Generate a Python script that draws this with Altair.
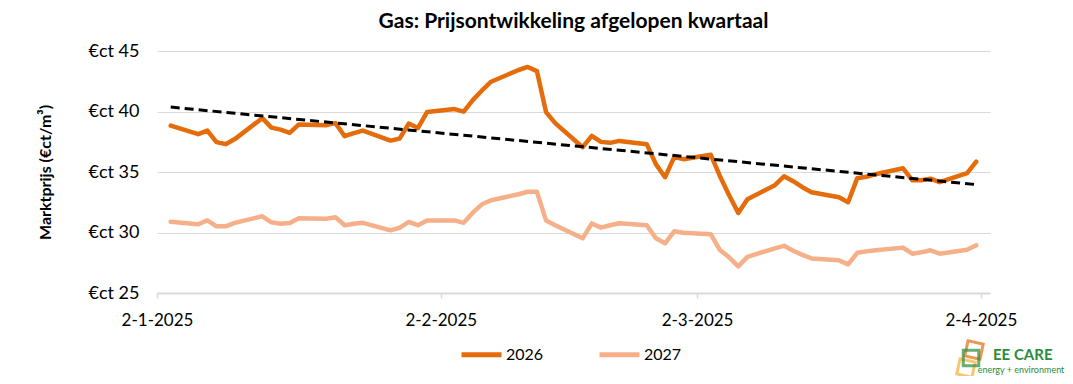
import altair as alt
import pandas as pd

dates = [
    "2025-01-03", "2025-01-06", "2025-01-07", "2025-01-08", "2025-01-09", "2025-01-10",
    "2025-01-13", "2025-01-14", "2025-01-15", "2025-01-16", "2025-01-17",
    "2025-01-20", "2025-01-21", "2025-01-22", "2025-01-23", "2025-01-24",
    "2025-01-27", "2025-01-28", "2025-01-29", "2025-01-30", "2025-01-31",
    "2025-02-03", "2025-02-04", "2025-02-05", "2025-02-06", "2025-02-07",
    "2025-02-10", "2025-02-11", "2025-02-12", "2025-02-13", "2025-02-14",
    "2025-02-17", "2025-02-18", "2025-02-19", "2025-02-20", "2025-02-21",
    "2025-02-24", "2025-02-25", "2025-02-26", "2025-02-27", "2025-02-28",
    "2025-03-03", "2025-03-04", "2025-03-05", "2025-03-06", "2025-03-07",
    "2025-03-10", "2025-03-11", "2025-03-12", "2025-03-13", "2025-03-14",
    "2025-03-17", "2025-03-18", "2025-03-19", "2025-03-20", "2025-03-21",
    "2025-03-24", "2025-03-25", "2025-03-26", "2025-03-27", "2025-03-28",
    "2025-03-31", "2025-04-01",
]

prices_2026 = [
    38.83, 38.13, 38.42, 37.47, 37.30, 37.72,
    39.45, 38.67, 38.50, 38.24, 38.93,
    38.87, 39.04, 37.96, 38.21, 38.42,
    37.59, 37.76, 39.00, 38.63, 39.95,
    40.20, 39.99, 40.94, 41.74, 42.46,
    43.43, 43.68, 43.34, 39.95, 39.04,
    37.05, 37.99, 37.49, 37.41, 37.57,
    37.30, 35.65, 34.57, 36.23, 36.06,
    36.42, 34.65, 33.08, 31.62, 32.75,
    33.91, 34.65, 34.24, 33.74, 33.33,
    32.91, 32.50, 34.49, 34.61, 34.82,
    35.31, 34.32, 34.32, 34.45, 34.16,
    34.90, 35.85,
]

prices_2027 = [
    30.89, 30.68, 31.00, 30.51, 30.51, 30.80,
    31.34, 30.84, 30.72, 30.78, 31.18,
    31.14, 31.26, 30.60, 30.72, 30.80,
    30.18, 30.39, 30.87, 30.60, 31.00,
    31.00, 30.80, 31.64, 32.33, 32.67,
    33.16, 33.37, 33.37, 31.00, 30.60,
    29.52, 30.75, 30.40, 30.60, 30.76,
    30.60, 29.52, 29.11, 30.10, 29.98,
    29.85, 28.55, 27.95, 27.20, 27.99,
    28.69, 28.90, 28.49, 28.15, 27.86,
    27.70, 27.37, 28.32, 28.44, 28.53,
    28.75, 28.25, 28.36, 28.53, 28.25,
    28.58, 28.94,
]

series_names = ["2026", "2027"]
series_colors = ["#E46C0A", "#F5B08A"]
y_ticks = [25, 30, 35, 40, 45]

FONT = "Lato"

rows = []
for name, vals in zip(series_names, [prices_2026, prices_2027]):
    for d, v in zip(dates, vals):
        rows.append({"date": d + "T12:00:00", "value": v, "series": name})
df = pd.DataFrame(rows)

x_enc = alt.X(
    "date:T",
    scale=alt.Scale(domain=[alt.DateTime(year=2025, month=1, date=2),
                            alt.DateTime(year=2025, month=4, date=3)]),
    axis=alt.Axis(
        values=[alt.DateTime(year=2025, month=1, date=2),
                alt.DateTime(year=2025, month=2, date=2),
                alt.DateTime(year=2025, month=3, date=2),
                alt.DateTime(year=2025, month=4, date=2)],
        format="%-d-%-m-%Y", title=None, grid=False,
        domainColor="#D9D9D9", domainWidth=2,
        tickColor="#D9D9D9", tickSize=5, tickWidth=1.5,
        labelFont=FONT, labelFontSize=17, labelColor="#000000",
        labelPadding=14, labelFlush=False,
    ),
)
y_enc = alt.Y(
    "value:Q",
    scale=alt.Scale(domain=[25, 45], nice=False, zero=False),
    axis=alt.Axis(
        values=y_ticks, labelExpr="'€ct ' + datum.value",
        title="Marktprijs (€ct/m³)", titleFont=FONT, titleFontSize=16,
        titleFontWeight="bold", titleColor="#000000",
        titleAngle=-90, titleBaseline="middle", titleAlign="center",
        titleX=-112, titleY=121,
        grid=True, gridColor="#D9D9D9", gridWidth=1,
        domain=False, ticks=False, labelPadding=18,
        labelFont=FONT, labelFontSize=18, labelColor="#000000",
    ),
)

base = alt.Chart(df)

lines = base.mark_line(strokeWidth=4.5, strokeJoin="round", strokeCap="round").encode(
    x=x_enc,
    y=y_enc,
    color=alt.Color(
        "series:N",
        scale=alt.Scale(domain=series_names, range=series_colors),
        legend=alt.Legend(
            title=None, orient="none", legendX=302, legendY=281,
            direction="horizontal", symbolType="stroke", symbolSize=1600,
            symbolStrokeWidth=5, labelFont=FONT, labelFontSize=16,
            labelColor="#000000", labelOffset=2, columnPadding=45,
        ),
    ),
    order=alt.Order("date:T"),
)

trend = base.transform_filter(
    alt.datum.series == "2026"
).transform_regression(
    "date", "value"
).mark_line(color="#000000", strokeWidth=3, strokeDash=[9, 5]).encode(
    x="date:T", y="value:Q"
)

logo_text = alt.Chart(pd.DataFrame({"t": ["EE CARE"]})).mark_text(
    font=FONT, fontSize=15, fontWeight="bold", color="#2A8C3C", align="left", baseline="alphabetic"
).encode(x=alt.value(836), y=alt.value(309), text="t:N")
logo_sub = alt.Chart(pd.DataFrame({"t": ["energy + environment"]})).mark_text(
    font=FONT, fontSize=9, color="#2A8C3C", align="center", baseline="alphabetic"
).encode(x=alt.value(864), y=alt.value(322), text="t:N")
sq1 = alt.Chart(pd.DataFrame({"k": [1]})).mark_point(
    shape="square", filled=False, stroke="#E46C0A", strokeWidth=3, size=240, angle=12
).encode(x=alt.value(817), y=alt.value(299))
sq2 = alt.Chart(pd.DataFrame({"k": [1]})).mark_point(
    shape="square", filled=False, stroke="#2A8C3C", strokeWidth=3, size=240, angle=0
).encode(x=alt.value(814), y=alt.value(307))
sq3 = alt.Chart(pd.DataFrame({"k": [1]})).mark_point(
    shape="square", filled=False, stroke="#F2B134", strokeWidth=3, size=240, angle=12
).encode(x=alt.value(809), y=alt.value(317))

chart = alt.layer(lines, trend, sq3, sq1, sq2, logo_text, logo_sub).properties(
    width=833,
    height=242,
    autosize=alt.AutoSizeParams(type="none"),
    padding={"left": 149, "top": 43, "right": 75, "bottom": 83},
    title=alt.Title(
        "Gas: Prijsontwikkeling afgelopen kwartaal",
        font=FONT, fontSize=21, fontWeight="bold", color="#000000",
        anchor="middle", offset=10,
    ),
).configure_view(stroke=None)

chart.save("out.html", embed_options={"renderer": "svg", "actions": False})
